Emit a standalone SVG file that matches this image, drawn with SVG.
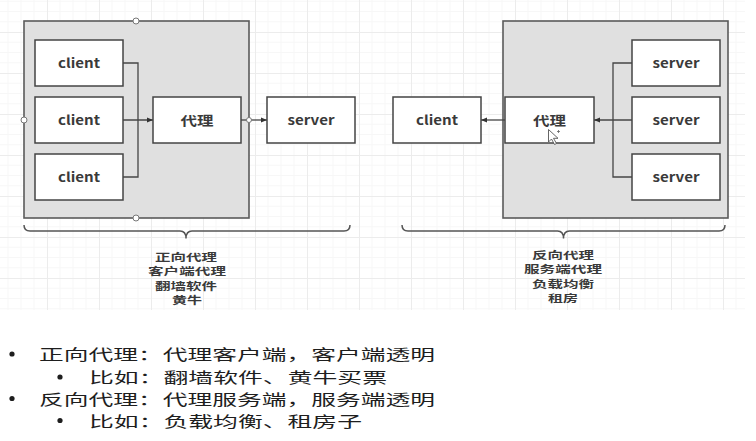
<svg xmlns="http://www.w3.org/2000/svg" width="756" height="441" viewBox="0 0 756 441">
<style>
.bg{fill:#ffffff}
.cont{fill:#e0e0e0;stroke:#5a5a5a;stroke-width:1.6}
.box{fill:#ffffff;stroke:#444444;stroke-width:1.5}
.lbl{font-family:"Noto Sans CJK SC","Liberation Sans",sans-serif;font-weight:bold;font-size:13px;fill:#3a3a3a;text-anchor:middle}
.cap{font-family:"Noto Sans CJK SC","Liberation Sans",sans-serif;font-weight:bold;font-size:10px;fill:#3a3a3a;text-anchor:middle}
.note{font-family:"Noto Sans CJK SC","Liberation Sans",sans-serif;font-size:15px;fill:#1e1e1e}
.bul{fill:#1e1e1e}
.ln{fill:none;stroke:#454545;stroke-width:1.3}
.brace{fill:none;stroke:#555555;stroke-width:1.5}
.dot{fill:#ffffff;stroke:#777777;stroke-width:1}
</style>
<defs>
<marker id="ah" viewBox="0 0 10 10" refX="10" refY="5" markerWidth="9" markerHeight="6" markerUnits="userSpaceOnUse" orient="auto">
<path d="M0,1 L10,5 L0,9 Z" fill="#333333"/>
</marker>
<pattern id="grid" patternUnits="userSpaceOnUse" x="47" y="32" width="52" height="41">
<path d="M13,0V41M26,0V41M39,0V41M0,10.25H52M0,20.5H52M0,30.75H52" stroke="#f7f7f7" stroke-width="1" fill="none"/>
<path d="M0.5,0V41M0,0.5H52" stroke="#ececec" stroke-width="1" fill="none"/>
</pattern>
</defs>
<rect class="bg" x="0" y="0" width="756" height="441"/>
<rect x="0" y="0" width="745" height="310" fill="url(#grid)"/>

<g id="forward-proxy-group">
<rect class="cont" x="24" y="21" width="225" height="197"/>
<circle class="dot" cx="136" cy="21" r="3"/>
<circle class="dot" cx="24" cy="120" r="3"/>
<circle class="dot" cx="136" cy="218" r="3"/>
</g>
<g id="reverse-proxy-group">
<rect class="cont" x="503" y="21" width="225" height="197"/>
</g>

<g id="connectors">
<path class="ln" d="M123,63H138V177H123M123,120H153" marker-end="url(#ah)"/>
<path class="ln" d="M241,120H267" marker-end="url(#ah)"/>
<circle class="dot" cx="249" cy="120" r="2.5"/>
<path class="ln" d="M632,63H613V177H632M632,120H594" marker-end="url(#ah)"/>
<path class="ln" d="M505,120H481" marker-end="url(#ah)"/>
</g>

<g id="client1"><rect class="box" x="35" y="40" width="88" height="46"/><text class="lbl" x="79" y="67.5" textLength="42" lengthAdjust="spacingAndGlyphs">client</text></g>
<g id="client2"><rect class="box" x="35" y="97" width="88" height="46"/><text class="lbl" x="79" y="124.5" textLength="42" lengthAdjust="spacingAndGlyphs">client</text></g>
<g id="client3"><rect class="box" x="35" y="154" width="88" height="46"/><text class="lbl" x="79" y="181.5" textLength="42" lengthAdjust="spacingAndGlyphs">client</text></g>
<g id="proxy-forward"><rect class="box" x="153" y="97" width="88" height="46"/><text class="lbl" x="197" y="125" textLength="33" lengthAdjust="spacingAndGlyphs">代理</text></g>
<g id="server-forward"><rect class="box" x="267" y="97" width="88" height="46"/><text class="lbl" x="311" y="124.5" textLength="47" lengthAdjust="spacingAndGlyphs">server</text></g>

<g id="client-reverse"><rect class="box" x="393" y="97" width="88" height="46"/><text class="lbl" x="437" y="124.5" textLength="42" lengthAdjust="spacingAndGlyphs">client</text></g>
<g id="proxy-reverse"><rect class="box" x="505" y="97" width="89" height="46"/><text class="lbl" x="549.5" y="125" textLength="33" lengthAdjust="spacingAndGlyphs">代理</text>
<path d="M548.5,129.5V142L551.5,139L554.5,144.5L556.5,143.5L553.5,138.3H558Z" fill="#ffffff" stroke="#555555" stroke-width="0.9"/>
<path d="M557,131.5h3M558.5,130v3" stroke="#666666" stroke-width="0.8"/>
</g>
<g id="server1"><rect class="box" x="632" y="40" width="88" height="46"/><text class="lbl" x="676" y="67.5" textLength="47" lengthAdjust="spacingAndGlyphs">server</text></g>
<g id="server2"><rect class="box" x="632" y="97" width="88" height="46"/><text class="lbl" x="676" y="124.5" textLength="47" lengthAdjust="spacingAndGlyphs">server</text></g>
<g id="server3"><rect class="box" x="632" y="154" width="88" height="46"/><text class="lbl" x="676" y="181.5" textLength="47" lengthAdjust="spacingAndGlyphs">server</text></g>

<g id="forward-caption">
<path class="brace" d="M24,225Q24,231 30,231H180Q186,231 186,238.5Q186,231 192,231H344Q350,231 350,225"/>
<text class="cap" x="186" y="260.5" textLength="62" lengthAdjust="spacingAndGlyphs">正向代理</text>
<text class="cap" x="187" y="275" textLength="78" lengthAdjust="spacingAndGlyphs">客户端代理</text>
<text class="cap" x="186" y="289.5" textLength="62" lengthAdjust="spacingAndGlyphs">翻墙软件</text>
<text class="cap" x="187" y="304" textLength="30" lengthAdjust="spacingAndGlyphs">黄牛</text>
</g>
<g id="reverse-caption">
<path class="brace" d="M402,225Q402,231 408,231H557.5Q563.5,231 563.5,238.5Q563.5,231 569.5,231H719Q725,231 725,225"/>
<text class="cap" x="563" y="258.5" textLength="62" lengthAdjust="spacingAndGlyphs">反向代理</text>
<text class="cap" x="563" y="273" textLength="78" lengthAdjust="spacingAndGlyphs">服务端代理</text>
<text class="cap" x="563" y="287.5" textLength="62" lengthAdjust="spacingAndGlyphs">负载均衡</text>
<text class="cap" x="563" y="302" textLength="30" lengthAdjust="spacingAndGlyphs">租房</text>
</g>

<g id="notes">
<circle class="bul" cx="12" cy="354" r="2.6"/>
<text class="note" x="39" y="359.5" textLength="396" lengthAdjust="spacingAndGlyphs">正向代理：代理客户端，客户端透明</text>
<circle class="bul" cx="60" cy="377" r="2.6"/>
<text class="note" x="89" y="382.5" textLength="298" lengthAdjust="spacingAndGlyphs">比如：翻墙软件、黄牛买票</text>
<circle class="bul" cx="12" cy="398.5" r="2.6"/>
<text class="note" x="39" y="404.5" textLength="396" lengthAdjust="spacingAndGlyphs">反向代理：代理服务端，服务端透明</text>
<circle class="bul" cx="60" cy="420.5" r="2.6"/>
<text class="note" x="89" y="426.5" textLength="273" lengthAdjust="spacingAndGlyphs">比如：负载均衡、租房子</text>
</g>
</svg>
